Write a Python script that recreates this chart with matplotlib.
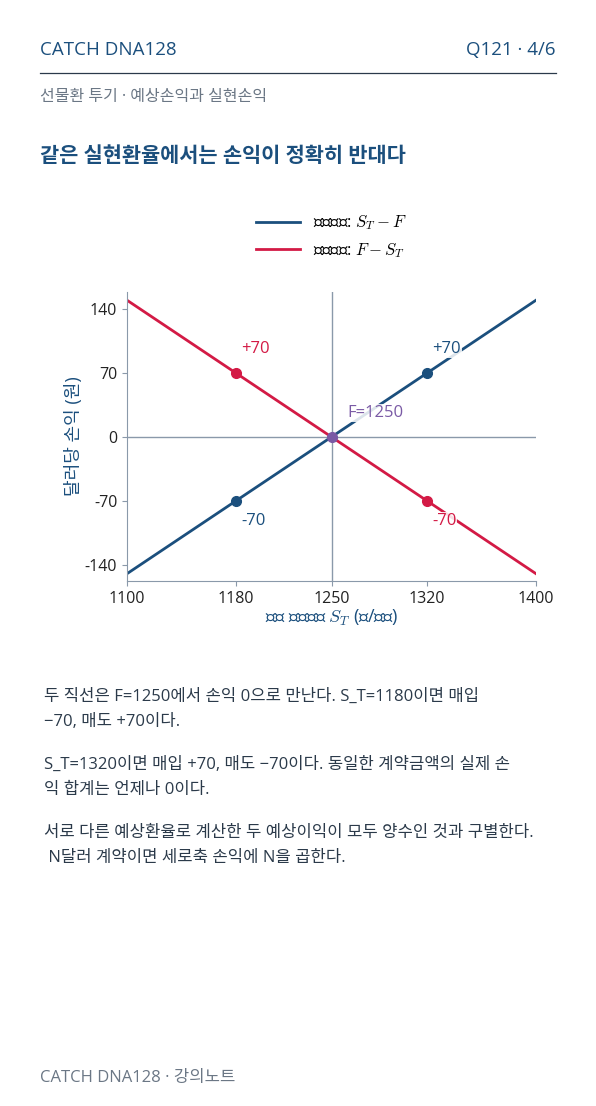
import matplotlib
matplotlib.use("Agg")
import matplotlib.pyplot as plt
import numpy as np

plt.rcParams['font.family'] = ['Open Sans', 'Noto Sans CJK KR', 'DejaVu Sans']
plt.rcParams['mathtext.fontset'] = 'cm'

F = 1250
x_range = [1100, 1400]
pts_x = [1180, 1320]
xticks = [1100, 1180, 1250, 1320, 1400]
yticks = [-140, -70, 0, 70, 140]
ytick_labels = ['-140', '-70', '0', '70', '140']

BLUE = '#1b4f7d'
RED = '#d31a45'
PURP = '#7a5aa5'
GRAY = '#8a99aa'
TXT = '#2b3a4a'

fig = plt.figure(figsize=(5.96, 11.06), dpi=100)
W, H = 596, 1106

def ft(x, y, s, **kw):
    fig.text(x / W, 1 - y / H, s, **kw)

ft(40, 50, 'CATCH DNA128', fontsize=13.5, color=BLUE, va='center')
ft(556, 50, 'Q121 · 4/6', fontsize=13.5, color=BLUE, va='center', ha='right')
fig.add_artist(plt.Line2D([40 / W, 556 / W], [1 - 73 / H] * 2, color=TXT, lw=0.9))
ft(40, 97, '선물환 투기 · 예상손익과 실현손익', fontsize=11.5, color='#6b7785', va='center')
ft(40, 157, '같은 실현환율에서는 손익이 정확히 반대다', fontsize=15, color=BLUE, va='center', weight='bold')

ax = fig.add_axes([127 / W, 1 - 581 / H, (536 - 127) / W, (581 - 292) / H])
xs = np.array(x_range)
long_ = xs - F
short_ = F - xs
ax.plot(xs, long_, color=BLUE, lw=2, label='선물매입: $S_T - F$')
ax.plot(xs, short_, color=RED, lw=2, label='선물매도: $F - S_T$')
ax.axhline(0, color=GRAY, lw=1, zorder=0)
ax.axvline(F, color=GRAY, lw=1, zorder=0)
for px in pts_x:
    ax.plot(px, px - F, 'o', color=BLUE, ms=7, zorder=5)
    ax.plot(px, F - px, 'o', color=RED, ms=7, zorder=5)
ax.plot(F, 0, 'o', color=PURP, ms=7, zorder=6)
bb = dict(facecolor='white', edgecolor='none', alpha=0.85, pad=0.5)
ax.text(1184, 92, '+70', color=RED, fontsize=12, bbox=bb)
ax.text(1324, 92, '+70', color=BLUE, fontsize=12, bbox=bb)
ax.text(1184, -92, '-70', color=BLUE, fontsize=12, va='center', bbox=bb)
ax.text(1324, -92, '-70', color=RED, fontsize=12, va='center', bbox=bb)
ax.text(1262, 22, 'F=1250', color=PURP, fontsize=12, bbox=bb)
ax.set_xlim(1100, 1400)
ax.set_ylim(-158, 159)
ax.set_xticks(xticks)
ax.set_yticks(yticks)
ax.set_yticklabels(ytick_labels)
for s in ['top', 'right']:
    ax.spines[s].set_visible(False)
for s in ['left', 'bottom']:
    ax.spines[s].set_color(GRAY)
ax.tick_params(colors=GRAY, labelcolor='#222222', labelsize=11.5)
ax.set_xlabel('만기 현물환율 $S_T$ (원/달러)', color=BLUE, fontsize=13, labelpad=1)
ax.set_ylabel('달러당 손익 (원)', color=BLUE, fontsize=13, labelpad=1)
ax.legend(loc='lower center', bbox_to_anchor=(0.5, 1.06), frameon=False, fontsize=12, handlelength=2.6)

body = [
    (697, '두 직선은 F=1250에서 손익 0으로 만난다. S_T=1180이면 매입'),
    (722, '−70, 매도 +70이다.'),
    (765, 'S_T=1320이면 매입 +70, 매도 −70이다. 동일한 계약금액의 실제 손'),
    (790, '익 합계는 언제나 0이다.'),
    (833, '서로 다른 예상환율로 계산한 두 예상이익이 모두 양수인 것과 구별한다.'),
    (858, ' N달러 계약이면 세로축 손익에 N을 곱한다.'),
]
for y, s in body:
    ft(44, y, s, fontsize=12, color=TXT, va='center')
ft(40, 1078, 'CATCH DNA128 · 강의노트', fontsize=12, color='#6b7785', va='center')

fig.savefig('out.png', dpi=100)
